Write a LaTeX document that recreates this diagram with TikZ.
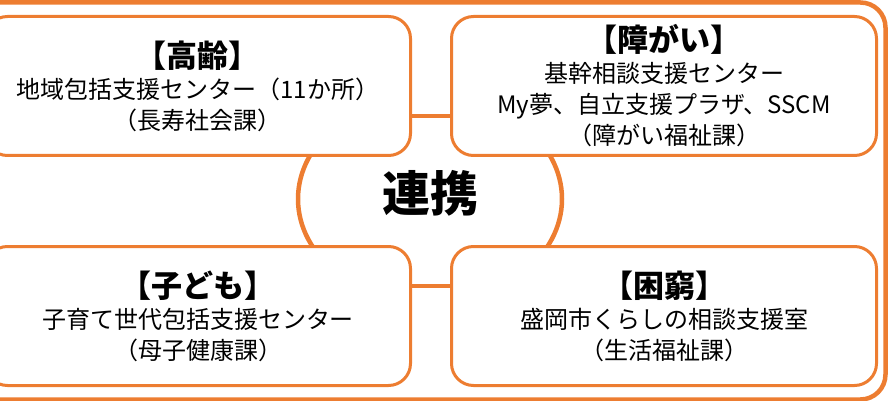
\documentclass[tikz,border=0pt]{standalone}
\usepackage{fontspec}
\setmainfont{Noto Sans CJK JP}
\usetikzlibrary{shapes.geometric}
\definecolor{orng}{HTML}{ED7D31}
\newcommand\headfont{\fontsize{31}{31}\selectfont\bfseries}

\begin{document}
\begin{tikzpicture}[x=1pt, y=-1pt,
	box/.style={draw=orng, line width=3pt, fill=white, rounded corners=22pt,
		minimum width=425pt, minimum height=139pt, inner sep=0pt, align=center,
		font=\fontsize{24}{31}\selectfont},
	link/.style={draw=orng, line width=4pt}]
	\useasboundingbox (0,0) rectangle (889,401);
	\clip (0,0) rectangle (889,401);
	\draw[orng, line width=4.5pt, rounded corners=25pt] (-40,2.5) rectangle (885.5,399.5);
	
	\begin{scope}
		\clip (0,150) rectangle (889,252);
		\node	(hub) at (430,199) [ellipse, draw=orng, line width=4.5pt, fill=white,
			minimum width=264pt, minimum height=208pt] {};
	\end{scope}
	
	\node	(old) at (198,86) [box] {{\headfont 【高齢】}\\地域包括支援センター（11か所）\\（長寿社会課）};
	\node	(dis) at (664,86) [box] {{\headfont 【障がい】}\\基幹相談支援センター\\My夢、自立支援プラザ、SSCM\\（障がい福祉課）};
	\node	(kid) at (198,316) [box] {{\headfont 【子ども】}\\子育て世代包括支援センター\\（母子健康課）};
	\node	(pov) at (664,316) [box] {{\headfont 【困窮】}\\盛岡市くらしの相談支援室\\（生活福祉課）};
	\node	(hubname) at (430,193) [font=\fontsize{48}{48}\selectfont\bfseries] {連携};
	
	\draw 
	([yshift=-30pt]old.east) edge[link] ([yshift=-30pt]dis.west)
	([yshift=30pt]kid.east) edge[link] ([yshift=30pt]pov.west)
	;
\end{tikzpicture}
\end{document}
